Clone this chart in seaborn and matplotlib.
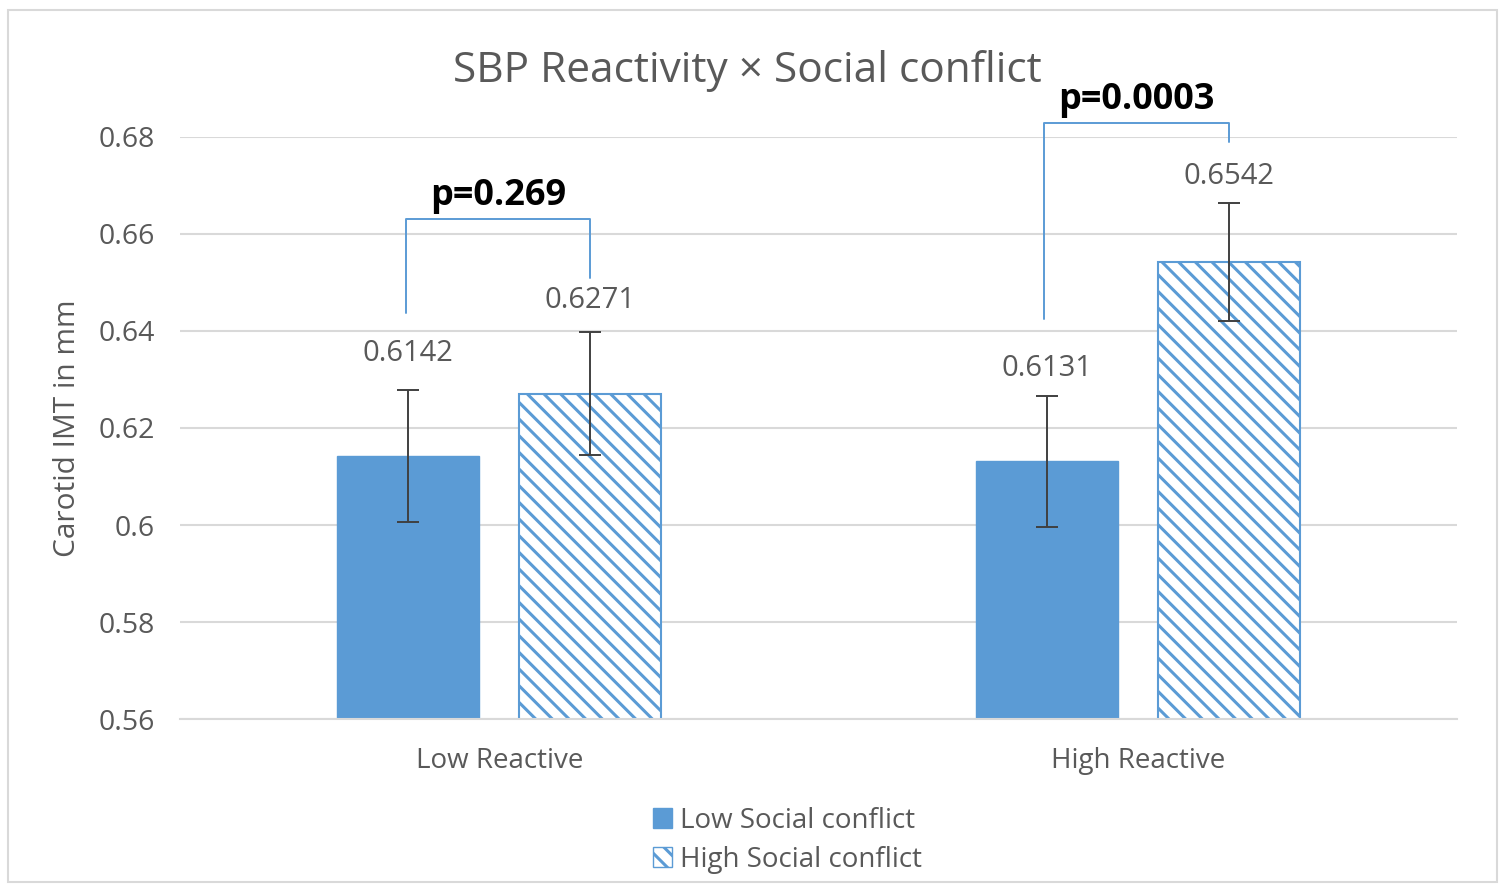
import numpy as np
import pandas as pd
import matplotlib
matplotlib.use("Agg")
import matplotlib.pyplot as plt
import seaborn as sns
from matplotlib.patches import Patch, Rectangle

# ---- data ----
groups = ["Low Reactive", "High Reactive"]
conflicts = ["Low Social conflict", "High Social conflict"]
low_conflict_means = [0.6142, 0.6131]
high_conflict_means = [0.6271, 0.6542]
low_conflict_err = [0.0136, 0.0135]
high_conflict_err = [0.0126, 0.0122]
p_labels = ["p=0.269", "p=0.0003"]
y_ticks = [0.56, 0.58, 0.60, 0.62, 0.64, 0.66, 0.68]

df = pd.DataFrame({
    "group": groups * 2,
    "conflict": [conflicts[0]] * 2 + [conflicts[1]] * 2,
    "value": low_conflict_means + high_conflict_means,
    "err": low_conflict_err + high_conflict_err,
})

sns.set_theme(style="white")
plt.rcParams["font.family"] = ["Open Sans", "DejaVu Sans"]
plt.rcParams["hatch.linewidth"] = 2.2

BLUE = "#5B9BD5"
GRID = "#D9D9D9"
TXT = "#595959"

fig = plt.figure(figsize=(15, 8.91), dpi=100)
ax = fig.add_axes([0.12, 0.193, 0.8513, 0.6533])

sns.barplot(data=df, x="group", y="value", hue="conflict", order=groups,
            hue_order=conflicts, palette=[BLUE, BLUE], width=0.57, gap=0.218,
            errorbar=None, legend=False, ax=ax, saturation=1)

bar_containers = list(ax.containers)

# style bars
for bar in bar_containers[0]:
    bar.set_facecolor(BLUE)
    bar.set_edgecolor(BLUE)
for bar in bar_containers[1]:
    bar.set_facecolor("white")
    bar.set_edgecolor(BLUE)
    bar.set_hatch("\\\\")
    bar.set_linewidth(1.5)

# error bars and value labels
errs = [low_conflict_err, high_conflict_err]
means = [low_conflict_means, high_conflict_means]
label_offsets = [[37, 27], [32, 26]]
centers = [[b.get_x() + b.get_width() / 2 for b in c] for c in bar_containers]
for h in range(2):
    for i in range(2):
        xc = centers[h][i]
        m = means[h][i]
        e = errs[h][i]
        ax.errorbar(xc, m, yerr=e, fmt="none", ecolor="#404040",
                    elinewidth=1.4, capsize=8, capthick=1.4, zorder=5)
        ax.annotate(f"{m:.4f}", (xc, m + e), xytext=(0, label_offsets[h][i]),
                    textcoords="offset pixels", ha="center", va="center",
                    fontsize=21, color=TXT)

# significance brackets
bracket_specs = [
    # (left leg bottom, top, right leg bottom)
    (0.6437, 0.6631, 0.6509),
    (0.6425, 0.6829, 0.6790),
]
for i, (lb, top, rb) in enumerate(bracket_specs):
    xl = centers[0][i] - 0.004
    xr = centers[1][i]
    ax.plot([xl, xl, xr, xr], [lb, top, top, rb], color=BLUE, lw=1.4,
            clip_on=False, zorder=6)
    ax.text((xl + xr) / 2, top + 0.0010, p_labels[i], ha="center",
            va="bottom", fontsize=26, fontweight="bold", color="black",
            clip_on=False)

ax.set_xlim(-0.5, 1.5)
ax.set_ylim(0.56, 0.68)
ax.set_yticks(y_ticks)
ax.set_yticklabels([f"{v:g}" for v in y_ticks])
ax.yaxis.grid(True, color=GRID, lw=1.5)
ax.set_axisbelow(True)
for s in ["top", "right", "left"]:
    ax.spines[s].set_visible(False)
ax.spines["bottom"].set_color(GRID)
ax.spines["bottom"].set_linewidth(1.5)
ax.tick_params(axis="y", length=0, pad=18, labelsize=20.5, labelcolor=TXT)
ax.tick_params(axis="x", length=0, pad=20, labelsize=20, labelcolor=TXT)
ax.set_xlabel("")
ax.set_ylabel("Carotid IMT in mm", fontsize=21.5, color=TXT)
ax.yaxis.set_label_coords(-0.0767, 0.5)

fig.text(0.498, 0.92, "SBP Reactivity × Social conflict", ha="center",
         va="center", fontsize=30.5, color=TXT)

handles = [Patch(facecolor=BLUE, edgecolor=BLUE),
           Patch(facecolor="white", edgecolor=BLUE, hatch="\\\\")]
fig.legend(handles, conflicts, loc="center", bbox_to_anchor=(0.525, 0.057),
           frameon=False, fontsize=20, labelcolor=TXT, handlelength=0.7,
           handleheight=0.7, handletextpad=0.3, labelspacing=0.4,
           borderpad=0)

fig.patches.append(Rectangle((8 / 1500, 9 / 891), 1489 / 1500, 872 / 891,
                             transform=fig.transFigure, fill=False,
                             edgecolor=GRID, lw=1.5))

fig.savefig("out.png", dpi=100)
